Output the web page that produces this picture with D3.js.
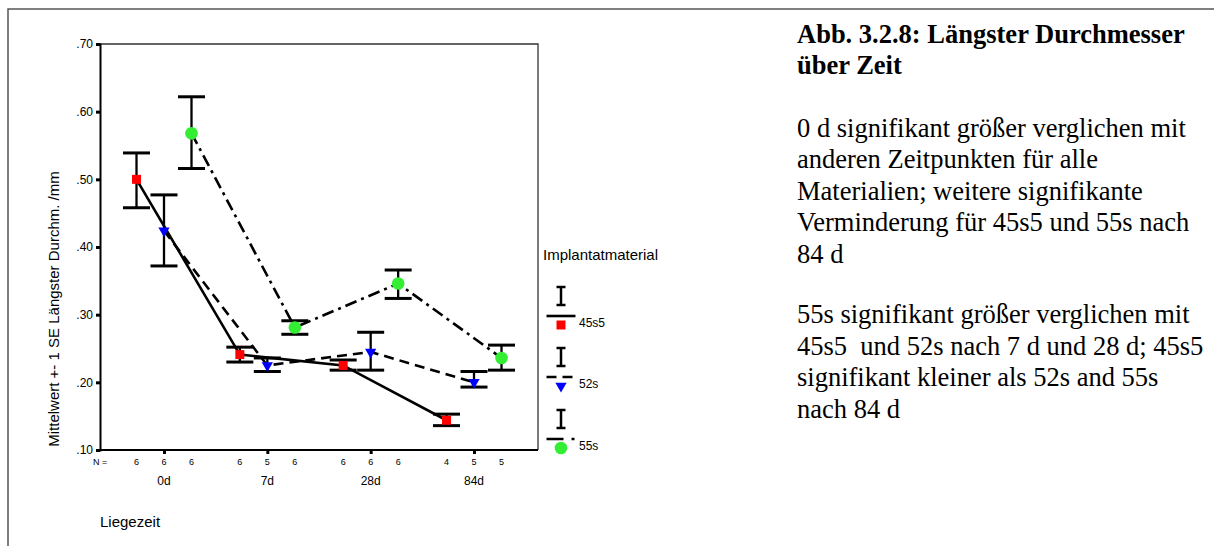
<!DOCTYPE html>
<html>
<head>
<meta charset="utf-8">
<script src="https://cdn.jsdelivr.net/npm/d3@7"></script>
<style>
  body { margin: 0; background: #fff; }
  svg text { font-family: "Liberation Sans", Arial, sans-serif; fill: #000; }
  .note { font-family: "Liberation Serif", "Times New Roman", serif !important; white-space: pre; }
</style>
</head>
<body>
<div id="chart"></div>
<script>
const timepoints = ["0d", "7d", "28d", "84d"];
const materials = ["45s5", "52s", "55s"];

// mean, mean + 1 SE, mean - 1 SE
const mean45s5  = [0.500, 0.241, 0.225, 0.144];
const upper45s5 = [0.539, 0.252, 0.233, 0.153];
const lower45s5 = [0.458, 0.230, 0.218, 0.136];

const mean52s  = [0.424, 0.225, 0.245, 0.200];
const upper52s = [0.477, 0.236, 0.274, 0.216];
const lower52s = [0.372, 0.216, 0.218, 0.193];

const mean55s  = [0.568, 0.281, 0.346, 0.236];
const upper55s = [0.622, 0.291, 0.366, 0.255];
const lower55s = [0.516, 0.271, 0.324, 0.218];

const n45s5 = [6, 6, 6, 4];
const n52s  = [6, 5, 6, 5];
const n55s  = [6, 6, 6, 5];

const yTicks = [0.10, 0.20, 0.30, 0.40, 0.50, 0.60, 0.70];

const titleLines = ["Abb. 3.2.8: Längster Durchmesser", "über Zeit"];
const note1Lines = ["0 d signifikant größer verglichen mit", "anderen Zeitpunkten für alle",
  "Materialien; weitere signifikante", "Verminderung für 45s5 und 55s nach", "84 d"];
const note2Lines = ["55s signifikant größer verglichen mit", "45s5  und 52s nach 7 d und 28 d; 45s5",
  "signifikant kleiner als 52s and 55s", "nach 84 d"];

const series = [
  { name: "45s5", mean: mean45s5, upper: upper45s5, lower: lower45s5, n: n45s5, color: "#ff0000", dash: null, shape: "square" },
  { name: "52s", mean: mean52s, upper: upper52s, lower: lower52s, n: n52s, color: "#0000ff", dash: "10,6", shape: "triangle" },
  { name: "55s", mean: mean55s, upper: upper55s, lower: lower55s, n: n55s, color: "#33ee33", dash: "12,5,3,5", shape: "circle" }
];

const W = 1214, H = 546;
const plot = { left: 100, top: 44, right: 538, bottom: 450 };

const svg = d3.select("#chart").append("svg")
  .attr("width", W).attr("height", H);

// outer frame
svg.append("path")
  .attr("d", `M${W},9 H8 V${H}`)
  .attr("fill", "none").attr("stroke", "#555").attr("stroke-width", 1.5);

const x = d3.scalePoint().domain(timepoints).range([164, 474]);
const offset = d3.scalePoint().domain(materials).range([-27.5, 27.5]);
const y = d3.scaleLinear().domain([0.1, 0.7]).range([plot.bottom, plot.top]);

const px = (s, i) => x(timepoints[i]) + offset(s.name);

// box top + right
svg.append("path")
  .attr("d", `M${plot.left},${plot.top} H${plot.right} V${plot.bottom}`)
  .attr("fill", "none").attr("stroke", "#333").attr("stroke-width", 1.3);

// y axis
const yAxis = svg.append("g")
  .attr("transform", `translate(${plot.left},0)`)
  .call(d3.axisLeft(y).tickValues(yTicks).tickSize(4).tickPadding(3)
    .tickFormat(d => d3.format(".2f")(d).replace(/^0/, "")));
yAxis.select(".domain").attr("stroke", "#000").attr("stroke-width", 2);
yAxis.selectAll(".tick line").attr("stroke-width", 3);
yAxis.selectAll(".tick text").style("font-size", "12px");

// x axis
const xAxis = svg.append("g")
  .attr("transform", `translate(0,${plot.bottom})`)
  .call(d3.axisBottom(x).tickSize(4).tickFormat(""));
xAxis.select(".domain").attr("d", `M${plot.left},0H${plot.right}`)
  .attr("stroke", "#000").attr("stroke-width", 2);
xAxis.selectAll(".tick line").attr("stroke-width", 3);

// category labels
svg.append("g").selectAll("text").data(timepoints).join("text")
  .attr("x", d => x(d)).attr("y", 485)
  .attr("text-anchor", "middle").style("font-size", "12px")
  .text(d => d);

// N row
svg.append("text").attr("x", 93).attr("y", 465)
  .style("font-size", "9px").text("N =");
series.forEach(s => {
  svg.append("g").selectAll("text").data(s.n).join("text")
    .attr("x", (d, i) => px(s, i)).attr("y", 465)
    .attr("text-anchor", "middle").style("font-size", "9px")
    .text(d => d);
});

// connecting lines
const line = d3.line()
  .x(d => d[0]).y(d => d[1]);
series.forEach(s => {
  svg.append("path")
    .attr("d", line(s.mean.map((v, i) => [px(s, i), y(v)])))
    .attr("fill", "none").attr("stroke", "#000")
    .attr("stroke-width", 2.6)
    .attr("stroke-dasharray", s.dash);
});

// error bars
const capW = 13.5;
series.forEach(s => {
  const g = svg.append("g").attr("stroke", "#000");
  s.mean.forEach((v, i) => {
    const cx = px(s, i);
    g.append("line").attr("x1", cx).attr("x2", cx)
      .attr("y1", y(s.upper[i])).attr("y2", y(s.lower[i]))
      .attr("stroke-width", 2.3);
    [s.upper[i], s.lower[i]].forEach(e => {
      g.append("line").attr("x1", cx - capW).attr("x2", cx + capW)
        .attr("y1", y(e)).attr("y2", y(e))
        .attr("stroke-width", 3);
    });
  });
});

// markers
function marker(sel, s) {
  if (s.shape === "square") {
    return sel.append("path").attr("d", d3.symbol(d3.symbolSquare, 81)()).attr("fill", s.color);
  } else if (s.shape === "triangle") {
    return sel.append("path").attr("d", d3.symbol(d3.symbolTriangle, 55)())
      .attr("fill", s.color);
  }
  return sel.append("path").attr("d", d3.symbol(d3.symbolCircle, 125)()).attr("fill", s.color);
}
series.forEach(s => {
  s.mean.forEach((v, i) => {
    const g = svg.append("g")
      .attr("transform", `translate(${px(s, i)},${y(v)})` + (s.shape === "triangle" ? " rotate(180)" : ""));
    marker(g, s);
  });
});

// axis titles
svg.append("text")
  .attr("transform", "translate(59,309) rotate(-90)")
  .attr("text-anchor", "middle").style("font-size", "15px")
  .text("Mittelwert +- 1 SE Längster Durchm. /mm");
svg.append("text").attr("x", 100).attr("y", 527)
  .style("font-size", "15px").text("Liegezeit");

// legend
svg.append("text").attr("x", 543).attr("y", 260)
  .style("font-size", "15px").text("Implantatmaterial");
const legendTop = [287, 348, 410];
series.forEach((s, k) => {
  const g = svg.append("g").attr("transform", `translate(561,${legendTop[k]})`);
  g.append("line").attr("x1", 0).attr("x2", 0).attr("y1", 0).attr("y2", 18)
    .attr("stroke", "#000").attr("stroke-width", 2.5);
  [0, 18].forEach(yy => g.append("line").attr("x1", -4.5).attr("x2", 4.5)
    .attr("y1", yy).attr("y2", yy).attr("stroke", "#000").attr("stroke-width", 2.5));
  g.append("line").attr("x1", -14.5).attr("x2", 14.5).attr("y1", 29).attr("y2", 29)
    .attr("stroke", "#000").attr("stroke-width", 2.6)
    .attr("stroke-dasharray", s.shape === "circle" ? "17,8,3,8" : s.dash);
  const m = g.append("g")
    .attr("transform", "translate(0,38)" + (s.shape === "triangle" ? " rotate(180)" : ""));
  marker(m, s);
  g.append("text").attr("x", 18).attr("y", 40)
    .style("font-size", "12px").text(s.name);
});

// right-hand notes
const noteX = 797;
svg.append("g").selectAll("text").data(titleLines).join("text")
  .attr("class", "note").attr("x", noteX).attr("y", (d, i) => 43 + i * 30.5)
  .style("font-size", "26.5px").style("font-weight", "bold")
  .text(d => d);
svg.append("g").selectAll("text").data(note1Lines).join("text")
  .attr("class", "note").attr("x", noteX).attr("y", (d, i) => 136.5 + i * 31.5)
  .style("font-size", "26.5px")
  .text(d => d);
svg.append("g").selectAll("text").data(note2Lines).join("text")
  .attr("class", "note").attr("x", noteX).attr("y", (d, i) => 323 + i * 31.7)
  .style("font-size", "26.5px")
  .text(d => d);
</script>
</body>
</html>
